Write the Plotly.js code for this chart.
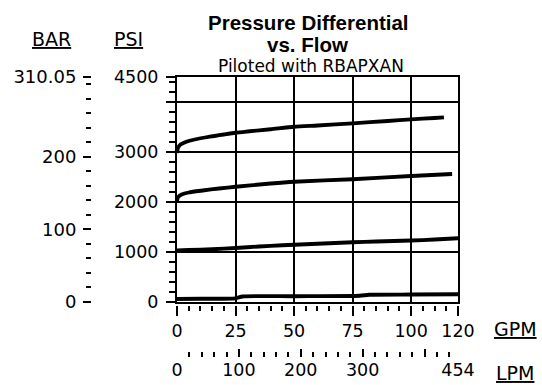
<!DOCTYPE html>
<html>
<head>
<meta charset="utf-8">
<script src="https://cdn.plot.ly/plotly-3.0.1.min.js"></script>
<style>html,body{margin:0;padding:0;background:#fff;}#chart{width:542px;height:385px;}</style>
</head>
<body>
<div id="chart"></div>
<script>
// ---- data (GPM vs PSI) ----
const curve1Gpm = [0, 0.5, 1.5, 3, 5, 8, 12, 16, 20, 25, 30, 40, 50, 60, 75, 90, 100, 110, 114];
const curve1Psi = [2980, 3090, 3150, 3185, 3220, 3255, 3290, 3320, 3350, 3385, 3410, 3455, 3505, 3530, 3572, 3620, 3652, 3680, 3693];

const curve2Gpm = [0, 0.5, 2, 5, 11, 18, 25, 40, 50, 75, 100, 117.5];
const curve2Psi = [2020, 2100, 2150, 2190, 2230, 2270, 2305, 2370, 2405, 2455, 2520, 2560];

const curve3Gpm = [0, 5, 15, 25, 35, 45, 55, 65, 75, 85, 100, 110, 120];
const curve3Psi = [1030, 1040, 1055, 1080, 1110, 1135, 1155, 1175, 1195, 1210, 1230, 1250, 1275];

const curve4Gpm = [0, 10, 25, 28, 50, 78, 82, 100, 120];
const curve4Psi = [60, 65, 75, 110, 115, 125, 145, 150, 155];

// ---- axis ticks ----
const gpmTicks = [0, 25, 50, 75, 100, 120];
const gpmTickText = ['0', '25', '50', '75', '100', '120'];
const lpmTicks = [0, 100, 200, 300, 400, 454];
const lpmTickText = ['0', '100', '200', '300', '', '454'];
const psiTicks = [0, 1000, 2000, 3000, 4000, 4500];
const psiTickText = ['0', '1000', '2000', '3000', '', '4500'];
const barTicks = [0, 100, 200, 310.05];
const barTickText = ['0', '100', '200', '310.05'];

const gpmRange = [0, 120];
const lpmRange = [0, 454];
const psiRange = [0, 4500];
const barRange = [0, 310.05];

const FONT = 'Arial, "Liberation Sans", sans-serif';
const TICKFONT = '"DejaVu Sans", Arial, sans-serif';
const tickFont = {family: TICKFONT, size: 17.5, color: '#000'};

const curves = [[curve1Gpm, curve1Psi], [curve2Gpm, curve2Psi], [curve3Gpm, curve3Psi], [curve4Gpm, curve4Psi]];
const traces = curves.map(c => ({
  type: 'scatter', mode: 'lines', x: c[0], y: c[1], xaxis: 'x', yaxis: 'y',
  line: {color: '#000', width: 3.8, shape: 'spline', smoothing: 0.6},
  hoverinfo: 'skip', showlegend: false
}));
// helper traces so the overlaying label axes get subplots
[['x2', 'y'], ['x3', 'y'], ['x', 'y2'], ['x', 'y3']].forEach(p => {
  traces.push({type: 'scatter', mode: 'lines', x: [null], y: [null], xaxis: p[0], yaxis: p[1], hoverinfo: 'skip', showlegend: false});
});

const XD = [0.2566, 1];
const YD = [0.1964, 1];
const minorTick = (len, d) => ({ticks: 'outside', ticklen: len, tickwidth: 2, tickcolor: '#000', dtick: d, tick0: 0, showgrid: false});

const layout = {
  width: 542, height: 385,
  margin: {l: 80, r: 84, t: 77, b: 28},
  paper_bgcolor: '#fff', plot_bgcolor: '#fff',
  showlegend: false,
  xaxis: {domain: XD, anchor: 'y', range: gpmRange, tickmode: 'array', tickvals: gpmTicks,
    showticklabels: false, ticks: '', showgrid: true, gridcolor: '#000', gridwidth: 2,
    showline: true, mirror: true, linecolor: '#000', linewidth: 2, zeroline: false, fixedrange: true},
  yaxis: {domain: YD, anchor: 'x', range: psiRange, tickmode: 'array', tickvals: psiTicks,
    showticklabels: false, ticks: '', showgrid: true, gridcolor: '#000', gridwidth: 2,
    showline: true, mirror: true, linecolor: '#000', linewidth: 2, zeroline: false, fixedrange: true},
  xaxis2: {overlaying: 'x', anchor: 'free', position: 0.1857, range: gpmRange,
    tickmode: 'array', tickvals: gpmTicks, ticktext: gpmTickText,
    ticks: 'outside', ticklen: 10, tickwidth: 2, tickcolor: '#000',
    minor: minorTick(5, 5), showline: false, showgrid: false, zeroline: false,
    tickfont: tickFont, automargin: false, fixedrange: true},
  xaxis3: {overlaying: 'x', anchor: 'free', position: 0, range: lpmRange,
    tickmode: 'array', tickvals: lpmTicks, ticktext: lpmTickText,
    ticks: 'inside', ticklen: 8, tickwidth: 2, tickcolor: '#000',
    minor: {ticks: 'inside', ticklen: 5, tickwidth: 2, tickcolor: '#000', dtick: 20, tick0: 0, showgrid: false},
    showline: false, showgrid: false, zeroline: false,
    tickfont: tickFont, automargin: false, fixedrange: true},
  yaxis2: {overlaying: 'y', anchor: 'free', position: 0.2513, side: 'left', range: psiRange,
    tickmode: 'array', tickvals: psiTicks, ticktext: psiTickText,
    ticks: 'outside', ticklen: 9, tickwidth: 2, tickcolor: '#000', ticklabelstandoff: 4,
    minor: minorTick(6, 200), showline: false, showgrid: false, zeroline: false,
    tickfont: tickFont, automargin: false, fixedrange: true},
  yaxis3: {overlaying: 'y', anchor: 'free', position: 0.0291, side: 'left', range: barRange,
    tickmode: 'array', tickvals: barTicks, ticktext: barTickText,
    ticks: 'outside', ticklen: 8, tickwidth: 2, tickcolor: '#000', ticklabelstandoff: 3,
    minor: minorTick(5, 20), showline: false, showgrid: false, zeroline: false,
    tickfont: {family: TICKFONT, size: 18, color: '#000'}, automargin: false, fixedrange: true},
  annotations: [
    {text: '<b>Pressure Differential</b>', x: 0.6058, y: 1.195, size: 20.5},
    {text: '<b>vs. Flow</b>', x: 0.6019, y: 1.117, size: 20.5},
    {text: 'Piloted with RBAPXAN', x: 0.6111, y: 1.04, size: 17, fam: TICKFONT},
    {text: '<u>BAR</u>', x: -0.0767, y: 1.137, fam: TICKFONT, size: 19},
    {text: '<u>PSI</u>', x: 0.1296, y: 1.137, fam: TICKFONT, size: 19},
    {text: '<u>GPM</u>', x: 1.1518, y: 0.1, fam: TICKFONT, size: 19},
    {text: '<u>LPM</u>', x: 1.151, y: -0.0589, fam: TICKFONT, size: 19}
  ].map(a => ({
    text: a.text, x: a.x, y: a.y, xref: 'paper', yref: 'paper',
    xanchor: 'center', yanchor: 'middle', showarrow: false,
    font: {family: a.fam || FONT, size: a.size || 20, color: '#000'}
  }))
};

Plotly.newPlot('chart', traces, layout, {staticPlot: true, displayModeBar: false});
</script>
</body>
</html>
